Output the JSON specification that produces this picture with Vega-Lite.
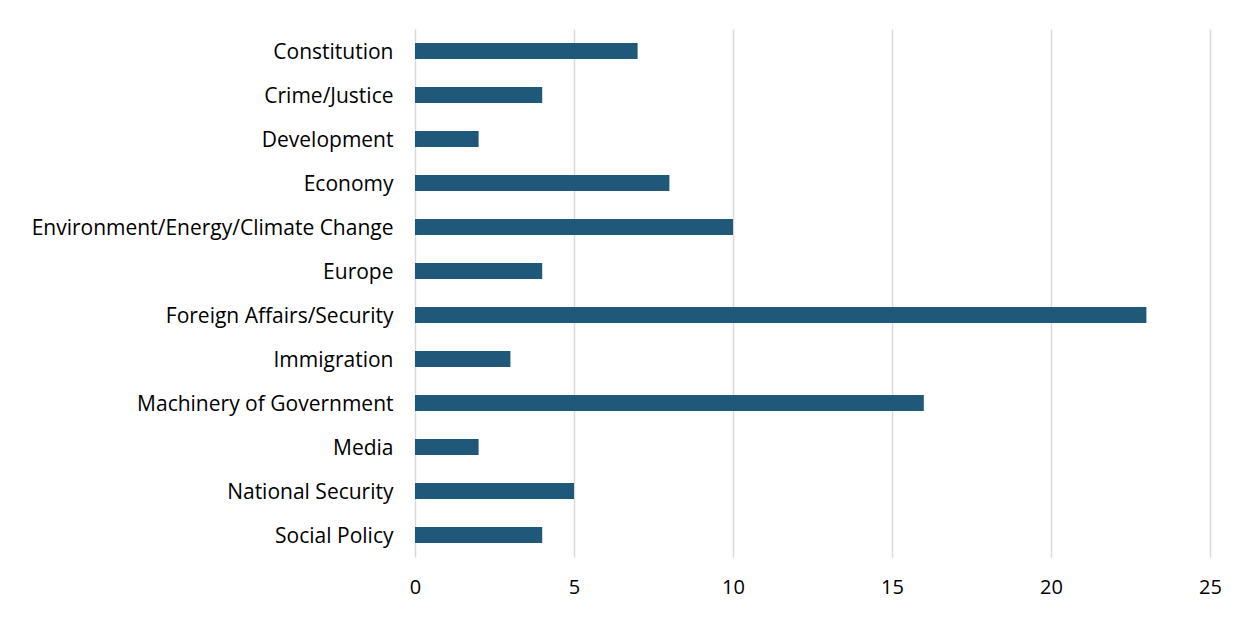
{
  "$schema": "https://vega.github.io/schema/vega-lite/v6.json",
  "width": 795,
  "height": 528,
  "padding": {"left": 0, "top": 29, "right": 43, "bottom": 0},
  "background": "white",
  "data": {
    "values": [
      {"topic": "Constitution", "count": 7},
      {"topic": "Crime/Justice", "count": 4},
      {"topic": "Development", "count": 2},
      {"topic": "Economy", "count": 8},
      {"topic": "Environment/Energy/Climate Change", "count": 10},
      {"topic": "Europe", "count": 4},
      {"topic": "Foreign Affairs/Security", "count": 23},
      {"topic": "Immigration", "count": 3},
      {"topic": "Machinery of Government", "count": 16},
      {"topic": "Media", "count": 2},
      {"topic": "National Security", "count": 5},
      {"topic": "Social Policy", "count": 4}
    ]
  },
  "mark": {"type": "bar", "color": "#1f5878", "height": {"band": 0.36}},
  "encoding": {
    "y": {
      "field": "topic",
      "type": "nominal",
      "sort": null,
      "scale": {"paddingInner": 0, "paddingOuter": 0},
      "axis": {
        "title": null,
        "domain": false,
        "ticks": false,
        "labelPadding": 22,
        "labelOffset": 1.5,
        "labelFont": "Open Sans",
        "labelFontSize": 21,
        "labelColor": "#000000",
        "labelLimit": 500,
        "minExtent": 415,
        "maxExtent": 415
      }
    },
    "x": {
      "field": "count",
      "type": "quantitative",
      "scale": {"domain": [0, 25], "nice": false},
      "axis": {
        "title": null,
        "values": [0, 5, 10, 15, 20, 25],
        "domain": false,
        "ticks": false,
        "grid": true,
        "gridColor": "#d9d9d9",
        "gridWidth": 1.5,
        "labelFlush": false,
        "labelPadding": 20,
        "labelFont": "Open Sans",
        "labelFontSize": 20,
        "labelColor": "#000000",
        "minExtent": 61,
        "maxExtent": 61
      }
    }
  },
  "config": {"view": {"stroke": null}}
}
